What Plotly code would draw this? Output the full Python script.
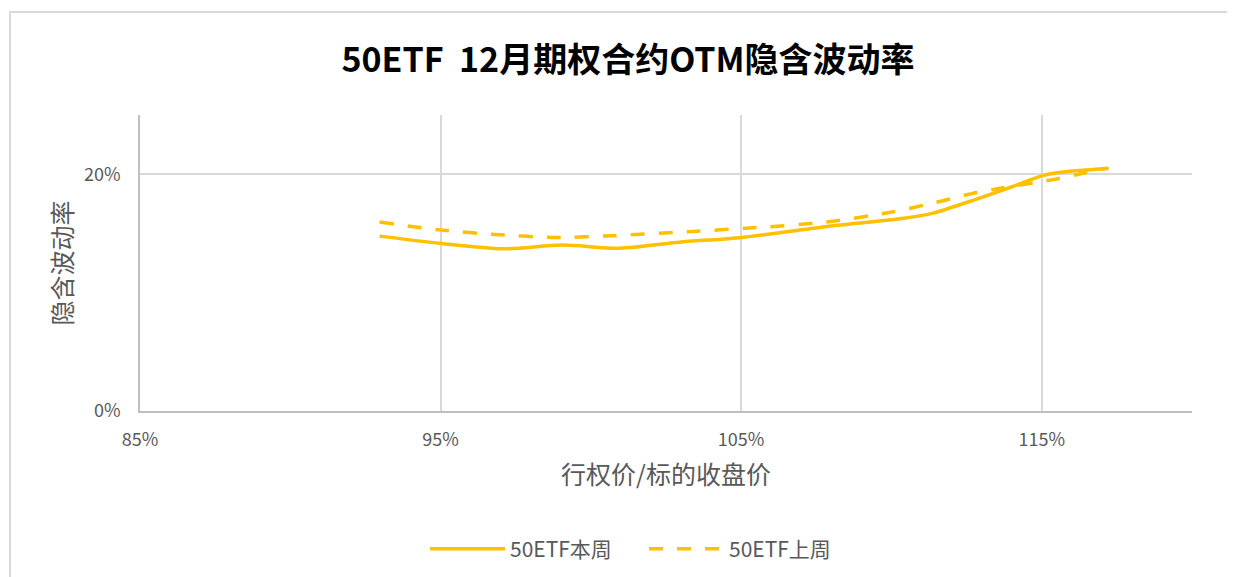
import plotly.graph_objects as go

# moneyness (strike / underlying close), in %
x_this = [92.97, 95.02, 97.06, 99.05, 100.95, 102.94, 104.93, 107.81, 110.35, 111.35, 112.81, 114.24, 115.0, 115.56, 117.23]
y_this = [14.77, 14.15, 13.70, 14.01, 13.75, 14.26, 14.64, 15.57, 16.25, 16.69, 17.88, 19.15, 19.86, 20.14, 20.51]

x_last = [92.97, 95.02, 96.96, 98.85, 100.71, 103.37, 105.27, 107.82, 110.02, 111.68, 112.67, 113.57, 115.33, 116.23, 117.13]
y_last = [15.96, 15.28, 14.89, 14.66, 14.81, 15.17, 15.45, 15.96, 16.81, 17.74, 18.36, 18.79, 19.52, 20.00, 20.48]

x_ticks = [85, 95, 105, 115]
x_tick_text = ["85%", "95%", "105%", "115%"]
y_ticks = [0, 20]
y_tick_text = ["0%", "20%"]

GOLD = "#FFC000"
TXT = "#595959"
FONT = "Noto Sans CJK SC"

# page body has an 8px margin; compensate so the plot sits where the reference has it
OFF = 8
W, H = 1235 - OFF, 577 - OFF
L, T = 140 - OFF, 115 - OFF
R = 1235 - 1192
B = H - (411 - OFF)
PW, PH = W - L - R, H - T - B

def cx(px):
    return (px - OFF) / W

def cy(py):
    return 1 - (py - OFF) / H

fig = go.Figure()
fig.add_trace(go.Scatter(x=x_this, y=y_this, mode="lines", name="50ETF本周",
                         line=dict(color=GOLD, width=3.5, shape="spline", smoothing=0.8)))
fig.add_trace(go.Scatter(x=x_last, y=y_last, mode="lines", name="50ETF上周",
                         line=dict(color=GOLD, width=3.5, shape="spline", smoothing=0.8, dash="14px,14px")))

fig.update_layout(
    width=W, height=H,
    margin=dict(l=L, r=R, t=T, b=B),
    paper_bgcolor="white", plot_bgcolor="white",
    font=dict(family=FONT, color=TXT),
    title=dict(text="<b>50ETF&nbsp; 12月期权合约OTM隐含波动率</b>", x=cx(628), xanchor="center",
               y=cy(60), yanchor="middle", font=dict(size=34, color="#000000", family=FONT)),
    xaxis=dict(range=[85, 120], tickvals=x_ticks, ticktext=x_tick_text,
               showgrid=True, gridcolor="#d9d9d9", gridwidth=1.5,
               showline=True, linecolor="#bfbfbf", linewidth=1.5,
               zeroline=False, tickfont=dict(size=18, color=TXT), ticklabelstandoff=12,
               title=dict(text="行权价/标的收盘价", font=dict(size=25, color=TXT), standoff=16)),
    yaxis=dict(range=[0, 25], tickvals=y_ticks, ticktext=y_tick_text,
               showgrid=True, gridcolor="#d9d9d9", gridwidth=1.5,
               showline=True, linecolor="#bfbfbf", linewidth=1.5,
               zeroline=False, tickfont=dict(size=18, color=TXT), ticklabelstandoff=14,
               title=dict(text="隐含波动率", font=dict(size=25, color=TXT), standoff=4)),
    legend=dict(orientation="h", xref="container", yref="container",
                x=cx(644), xanchor="center", y=cy(549), yanchor="middle",
                font=dict(size=21, color=TXT), itemwidth=75, entrywidth=129,
                entrywidthmode="pixels"),
    shapes=[dict(type="rect", xref="paper", yref="paper",
                 x0=(10 - 140) / PW, x1=1.3, y0=-1.0, y1=(411 - 12) / PH,
                 line=dict(color="#d9d9d9", width=2), fillcolor="rgba(0,0,0,0)", layer="below")],
)

fig.write_html("out.html")
